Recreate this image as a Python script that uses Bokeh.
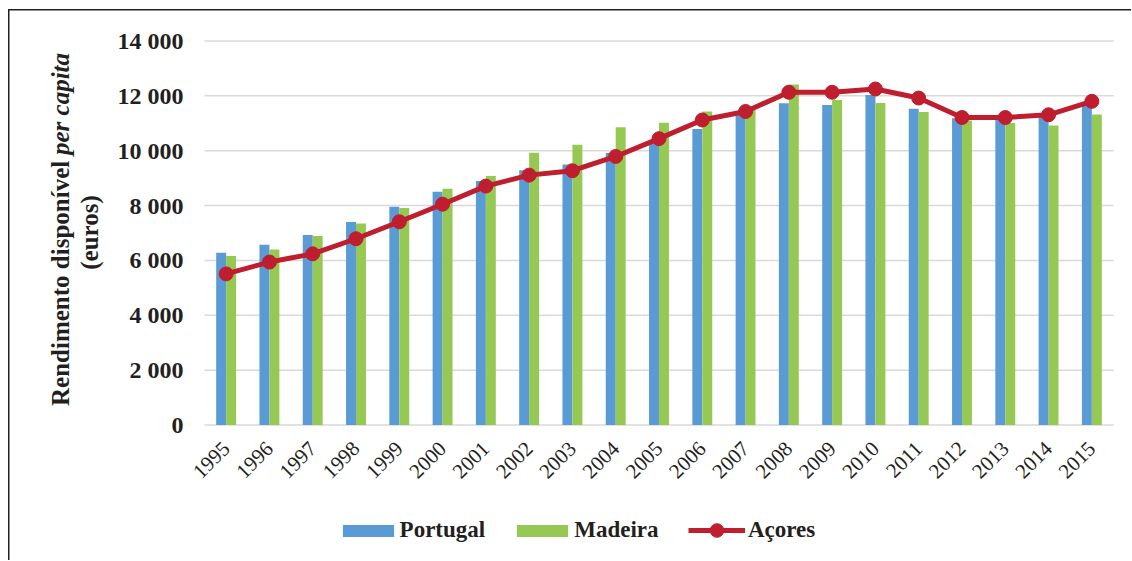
from math import pi
from bokeh.plotting import figure
from bokeh.models import (ColumnDataSource, Range1d, FixedTicker, Label,
                          Legend, LegendItem)
from bokeh.transform import dodge
from bokeh.embed import file_html
from bokeh.resources import INLINE

# ---- data ----
years = list(range(1995, 2016))
year_labels = [str(y) for y in years]
portugal = [6280, 6570, 6930, 7400, 7960, 8500, 8900, 9290, 9500, 9920, 10350,
            10790, 11350, 11730, 11670, 12030, 11530, 11180, 11150, 11250, 11650]
madeira = [6160, 6400, 6890, 7350, 7910, 8610, 9080, 9930, 10220, 10860, 11020,
           11430, 11480, 12410, 11850, 11740, 11410, 11100, 11010, 10920, 11320]
acores = [5510, 5940, 6240, 6790, 7410, 8050, 8710, 9110, 9270, 9790, 10440,
          11120, 11430, 12130, 12130, 12250, 11920, 11210, 11210, 11310, 11800]
y_ticks = [0, 2000, 4000, 6000, 8000, 10000, 12000, 14000]
y_tick_labels = ["0", "2 000", "4 000", "6 000", "8 000", "10 000", "12 000", "14 000"]
series_names = ["Portugal", "Madeira", "Açores"]
y_title = ["Rendimento disponível ", "per capita", "(euros)"]

BLUE = "#5B9BD5"
GREEN = "#95C954"
RED = "#BE1E2D"
TEXT = "#231F20"
GRID = "#D9D9D9"
FONT = "Liberation Serif"

# ---- layout geometry (pixels) ----
W, H = 1131, 560
PLOT_L, PLOT_R = 204, 1113          # left / right edge of the category band area
PLOT_T, PLOT_B = 40.5, 424.5        # pixel rows of the top (14000) and 0 gridlines

x_lo, x_hi = years[0] - 0.5, years[-1] + 0.5
px_per_x = (PLOT_R - PLOT_L) / (x_hi - x_lo)
y_lo, y_hi = y_ticks[0], y_ticks[-1]
px_per_y = (PLOT_B - PLOT_T) / (y_hi - y_lo)

x_range = Range1d(x_lo - PLOT_L / px_per_x, x_hi + (W - PLOT_R) / px_per_x)
y_range = Range1d(y_lo - (H - PLOT_B) / px_per_y, y_hi + PLOT_T / px_per_y)

src = ColumnDataSource(dict(year=years, portugal=portugal, madeira=madeira, acores=acores))
grid_src = ColumnDataSource(dict(y=y_ticks, x0=[x_lo] * len(y_ticks), x1=[x_hi] * len(y_ticks)))

p = figure(x_range=x_range, y_range=y_range, width=W, height=H,
           output_backend="svg", toolbar_location=None,
           min_border=0, min_border_left=0, min_border_right=0,
           min_border_top=0, min_border_bottom=0)
p.outline_line_color = None
p.border_fill_color = None
p.background_fill_color = None
p.styles = {"background-image": "linear-gradient(#231F20, #231F20), linear-gradient(#231F20, #231F20)",
            "background-size": "1.5px 100%, 100% 1.5px",
            "background-position": "7.5px 9px, 7.5px 9px",
            "background-repeat": "no-repeat"}
p.xgrid.visible = False
p.ygrid.visible = False

# horizontal gridlines limited to the category band area
p.segment(x0="x0", x1="x1", y0="y", y1="y", source=grid_src,
          line_color=GRID, line_width=1.5, level="underlay")

b1 = p.vbar(x=dodge("year", -0.115), top="portugal", width=0.23,
            source=src, fill_color=BLUE, line_color=None)
b2 = p.vbar(x=dodge("year", 0.115), top="madeira", width=0.23,
            source=src, fill_color=GREEN, line_color=None)
ln = p.line(x="year", y="acores", source=src, line_color=RED, line_width=5)
mk = p.scatter(x="year", y="acores", source=src, size=14, fill_color=RED, line_color=RED)

# y axis
p.yaxis.fixed_location = x_lo
p.yaxis.ticker = FixedTicker(ticks=y_ticks)
p.yaxis.major_label_overrides = {t: l for t, l in zip(y_ticks, y_tick_labels)}
p.yaxis.axis_line_color = None
p.yaxis.major_tick_line_color = None
p.yaxis.minor_tick_line_color = None
p.yaxis.major_tick_out = 0
p.yaxis.major_tick_in = 0
p.yaxis.major_label_standoff = 21
p.yaxis.major_label_text_font = FONT
p.yaxis.major_label_text_font_style = "bold"
p.yaxis.major_label_text_font_size = "24px"
p.yaxis.major_label_text_color = TEXT

# x axis
p.xaxis.fixed_location = y_lo
p.xaxis.ticker = FixedTicker(ticks=years)
p.xaxis.major_label_overrides = {y: l for y, l in zip(years, year_labels)}
p.xaxis.axis_line_color = None
p.xaxis.major_tick_line_color = None
p.xaxis.minor_tick_line_color = None
p.xaxis.major_tick_out = 0
p.xaxis.major_tick_in = 0
p.xaxis.major_label_orientation = pi / 4
p.xaxis.major_label_standoff = 20
p.xaxis.major_label_text_font = FONT
p.xaxis.major_label_text_font_size = "21px"
p.xaxis.major_label_text_color = TEXT

# y-axis title (bold with bold-italic "per capita"), screen units from bottom-left
common = dict(x_units="screen", y_units="screen", angle=pi / 2, text_font=FONT,
              text_font_size="25px", text_color=TEXT, text_baseline="alphabetic")
p.add_layout(Label(x=60, y=154.5, text=y_title[0], text_align="left",
                   text_font_style="bold", **common))
p.add_layout(Label(x=60, y=405.5, text=y_title[1], text_align="left",
                   text_font_style="bold italic", **common))
p.add_layout(Label(x=88.5, y=328, text=y_title[2], text_align="center",
                   text_font_style="bold", **common))

legend_style = dict(orientation="horizontal", padding=0, margin=0,
                    border_line_color=None, background_fill_alpha=0,
                    label_text_font=FONT, label_text_font_style="bold",
                    label_text_font_size="23px", label_text_color=TEXT,
                    label_text_baseline="middle")
legend_bars = Legend(items=[LegendItem(label=series_names[0], renderers=[b1]),
                            LegendItem(label=series_names[1], renderers=[b2])],
                     location=(335.6, 17), glyph_width=64, glyph_height=15,
                     label_standoff=0, spacing=25, **legend_style)
legend_line = Legend(items=[LegendItem(label=series_names[2], renderers=[ln, mk])],
                     location=(688, 13), glyph_width=57, glyph_height=34,
                     label_standoff=3, **legend_style)
p.add_layout(legend_bars)
p.add_layout(legend_line)

open("out.html", "w").write(file_html(p, INLINE))
